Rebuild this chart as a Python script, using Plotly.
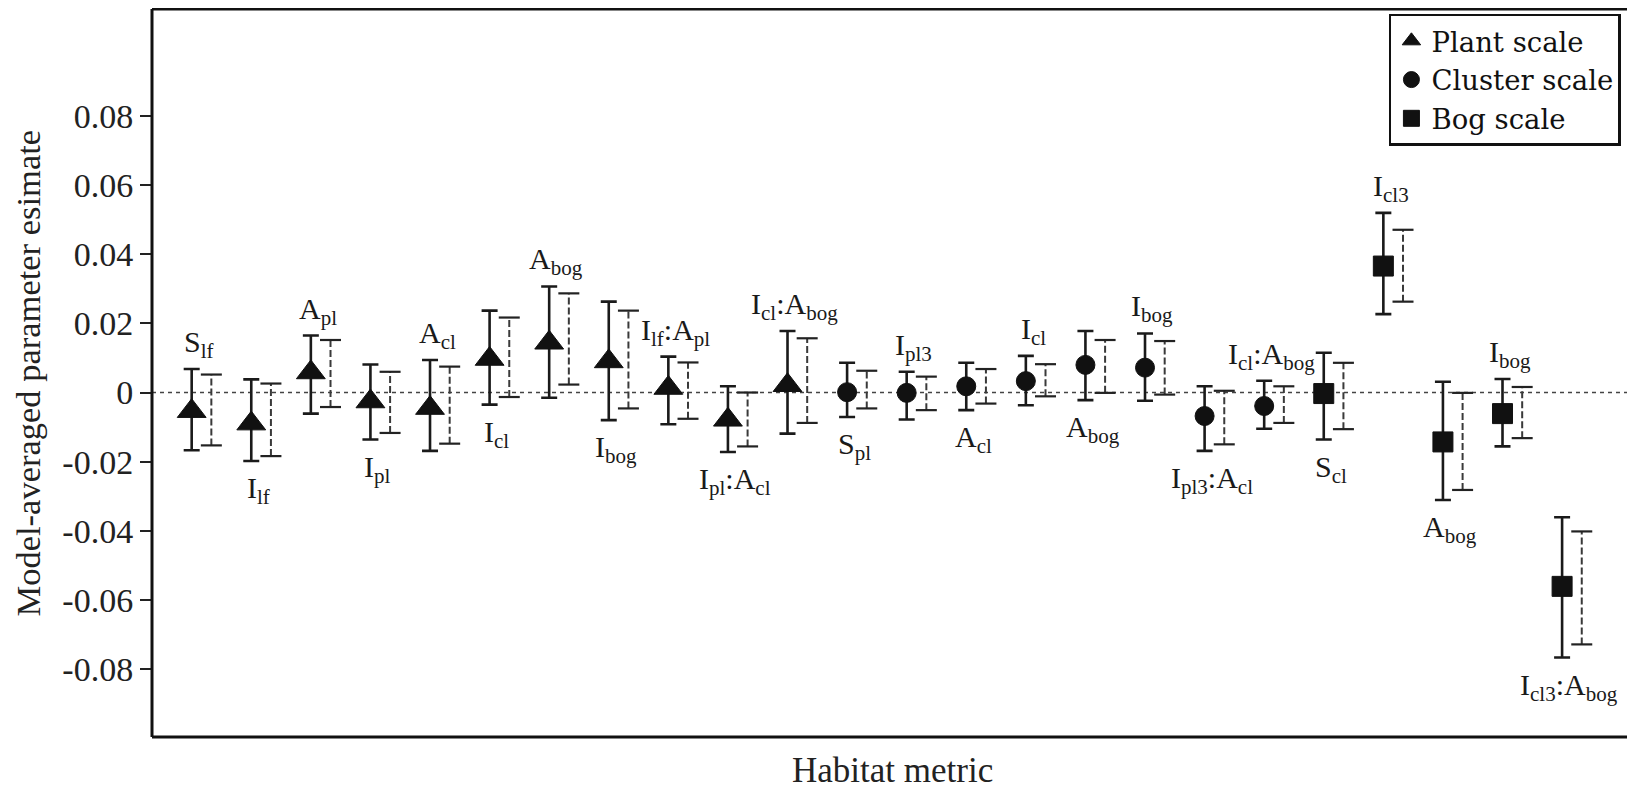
import plotly.graph_objects as go

# ---------------- data ----------------
plant_labels = ["S<sub>lf</sub>", "I<sub>lf</sub>", "A<sub>pl</sub>", "I<sub>pl</sub>", "A<sub>cl</sub>",
                "I<sub>cl</sub>", "A<sub>bog</sub>", "I<sub>bog</sub>", "I<sub>lf</sub>:A<sub>pl</sub>",
                "I<sub>pl</sub>:A<sub>cl</sub>", "I<sub>cl</sub>:A<sub>bog</sub>"]
plant_est = [-0.0054, -0.0090, 0.0058, -0.0026, -0.0045, 0.0097, 0.0144, 0.0090, 0.0013, -0.0079, 0.0021]
plant_lo = [-0.0167, -0.0198, -0.0061, -0.0136, -0.0169, -0.0035, -0.0015, -0.0080, -0.0092, -0.0172, -0.0119]
plant_hi = [0.0068, 0.0038, 0.0165, 0.0081, 0.0094, 0.0237, 0.0307, 0.0263, 0.0104, 0.0018, 0.0178]
plant_lo2 = [-0.0153, -0.0184, -0.0042, -0.0117, -0.0148, -0.0013, 0.0023, -0.0046, -0.0076, -0.0156, -0.0088]
plant_hi2 = [0.0052, 0.0026, 0.0152, 0.0060, 0.0075, 0.0217, 0.0287, 0.0237, 0.0087, 0.0000, 0.0157]
plant_pos = ["above", "below", "above", "below", "above", "below", "above", "below", "above", "below", "above"]

cluster_labels = ["S<sub>pl</sub>", "I<sub>pl3</sub>", "A<sub>cl</sub>", "I<sub>cl</sub>", "A<sub>bog</sub>",
                  "I<sub>bog</sub>", "I<sub>pl3</sub>:A<sub>cl</sub>", "I<sub>cl</sub>:A<sub>bog</sub>"]
cluster_est = [0.0001, -0.0001, 0.0018, 0.0033, 0.0080, 0.0072, -0.0068, -0.0039]
cluster_lo = [-0.0071, -0.0078, -0.0051, -0.0037, -0.0022, -0.0024, -0.0169, -0.0105]
cluster_hi = [0.0086, 0.0060, 0.0086, 0.0106, 0.0178, 0.0171, 0.0018, 0.0034]
cluster_lo2 = [-0.0046, -0.0051, -0.0032, -0.0011, -0.0001, -0.0006, -0.0150, -0.0088]
cluster_hi2 = [0.0063, 0.0046, 0.0068, 0.0082, 0.0152, 0.0149, 0.0005, 0.0018]
cluster_pos = ["below", "above", "below", "above", "below", "above", "below", "above"]

bog_labels = ["S<sub>cl</sub>", "I<sub>cl3</sub>", "A<sub>bog</sub>", "I<sub>bog</sub>", "I<sub>cl3</sub>:A<sub>bog</sub>"]
bog_est = [-0.0003, 0.0366, -0.0143, -0.0061, -0.0561]
bog_lo = [-0.0136, 0.0227, -0.0311, -0.0156, -0.0767]
bog_hi = [0.0115, 0.0520, 0.0031, 0.0039, -0.0361]
bog_lo2 = [-0.0106, 0.0263, -0.0282, -0.0132, -0.0729]
bog_hi2 = [0.0086, 0.0471, -0.0001, 0.0016, -0.0402]
bog_pos = ["below", "above", "below", "above", "below"]

y_tickvals = [0.08, 0.06, 0.04, 0.02, 0, -0.02, -0.04, -0.06, -0.08]
y_ticktext = ["0.08", "0.06", "0.04", "0.02", "0", "-0.02", "-0.04", "-0.06", "-0.08"]

SERIF = "Liberation Serif"
LEGEND_FONT = "DejaVu Serif"
DASH_OFF = 0.33
LABEL_OFF = 0.12

groups = [
    ("Plant scale", "triangle-up", 25, plant_labels, plant_est, plant_lo, plant_hi, plant_lo2, plant_hi2, plant_pos),
    ("Cluster scale", "circle", 19, cluster_labels, cluster_est, cluster_lo, cluster_hi, cluster_lo2, cluster_hi2, cluster_pos),
    ("Bog scale", "square", 20, bog_labels, bog_est, bog_lo, bog_hi, bog_lo2, bog_hi2, bog_pos),
]

fig = go.Figure()
annotations = []
start = 0
for name, sym, msize, labels, est, lo, hi, lo2, hi2, pos in groups:
    n = len(est)
    xs = list(range(start, start + n))
    # dashed (second) interval stems
    sx, sy = [], []
    for i in range(n):
        sx += [xs[i] + DASH_OFF, xs[i] + DASH_OFF, None]
        sy += [lo2[i], hi2[i], None]
    fig.add_trace(go.Scatter(x=sx, y=sy, mode="lines", showlegend=False, hoverinfo="skip",
                             line=dict(color="#3a3a3a", width=2, dash="7px,3px")))
    # caps of dashed intervals
    fig.add_trace(go.Scatter(x=[x + DASH_OFF for x in xs] * 2, y=lo2 + hi2, mode="markers",
                             showlegend=False, hoverinfo="skip",
                             marker=dict(symbol="line-ew-open", size=15, color="#222222",
                                         line=dict(color="#222222", width=2.2))))
    # estimates with solid intervals
    fig.add_trace(go.Scatter(
        x=xs, y=est, mode="markers", name=name,
        marker=dict(symbol=sym, size=msize, color="#111111", line=dict(color="#111111", width=1)),
        error_y=dict(type="data", symmetric=False,
                     array=[h - e for h, e in zip(hi, est)],
                     arrayminus=[e - l for e, l in zip(est, lo)],
                     color="#1a1a1a", thickness=2.6, width=8)))
    for i in range(n):
        if pos[i] == "above":
            annotations.append(dict(x=xs[i] + LABEL_OFF, y=hi[i], text=labels[i], showarrow=False,
                                    xanchor="center", yanchor="bottom", yshift=4,
                                    font=dict(family=SERIF, size=30, color="#1a1a1a")))
        else:
            annotations.append(dict(x=xs[i] + LABEL_OFF, y=lo[i], text=labels[i], showarrow=False,
                                    xanchor="center", yanchor="top", yshift=-8,
                                    font=dict(family=SERIF, size=30, color="#1a1a1a")))
    start += n

# axis titles
annotations.append(dict(xref="paper", yref="paper", x=-0.0834, y=0.5, text="Model-averaged parameter esimate",
                        textangle=-90, showarrow=False, xanchor="center", yanchor="middle",
                        font=dict(family=SERIF, size=34.5, color="#222222")))
annotations.append(dict(xref="paper", yref="paper", x=0.5, y=-0.0467, text="Habitat metric",
                        showarrow=False, xanchor="center", yanchor="middle",
                        font=dict(family=SERIF, size=35, color="#222222")))

shapes = [
    # zero reference line
    dict(type="line", xref="paper", yref="y", x0=0, x1=1, y0=0, y1=0,
         line=dict(color="#444444", width=1.3, dash="4px,4px"), layer="below"),
    # frame
    dict(type="line", xref="paper", yref="paper", x0=0, x1=0, y0=0, y1=1, line=dict(color="#111111", width=3)),
    dict(type="line", xref="paper", yref="paper", x0=0, x1=1, y0=1, y1=1, line=dict(color="#111111", width=3)),
    dict(type="line", xref="paper", yref="paper", x0=0, x1=1, y0=0, y1=0, line=dict(color="#111111", width=3)),
    dict(type="line", xref="paper", yref="paper", x0=1, x1=1, y0=0, y1=1, line=dict(color="#555555", width=1.5)),
]

fig.update_layout(
    width=1627, height=782,
    margin=dict(l=144, r=2, t=1, b=53),
    paper_bgcolor="white", plot_bgcolor="white",
    font=dict(family=SERIF, color="#222222"),
    xaxis=dict(range=[-0.666, 24.19], showgrid=False, zeroline=False, showticklabels=False,
               ticks="", showline=False),
    yaxis=dict(range=[-0.0997, 0.1110], showgrid=False, zeroline=False,
               tickvals=y_tickvals, ticktext=y_ticktext, ticks="outside", ticklen=11,
               tickwidth=2, tickcolor="#222222", showline=False,
               tickfont=dict(family=SERIF, size=34, color="#222222")),
    legend=dict(x=0.8352, y=0.9932, xanchor="left", yanchor="top", bgcolor="white",
                bordercolor="#111111", borderwidth=2.5,
                font=dict(family=LEGEND_FONT, size=27.5, color="#111111")),
    annotations=annotations,
    shapes=shapes,
    showlegend=True,
)

fig.write_html("out.html")
